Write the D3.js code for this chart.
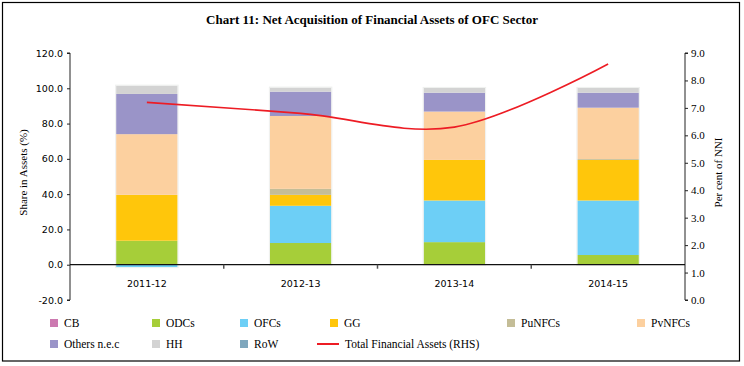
<!DOCTYPE html>
<html><head><meta charset="utf-8">
<script src="https://cdn.jsdelivr.net/npm/d3@7"></script>
<style>body{margin:0;background:#fff}svg{display:block}</style>
</head><body>
<svg id="c" width="744" height="366"></svg>
<script>
const categories = ["2011-12","2012-13","2013-14","2014-15"];
const seriesNames = ["CB","ODCs","OFCs","GG","PuNFCs","PvNFCs","Others n.e.c","HH","RoW"];
const CB = [0,0,0,0];
const ODCs = [13.6,12.3,12.8,5.5];
const OFCs = [-1.4,21.1,23.6,30.9];
const GG = [26.0,6.2,23.0,23.0];
const PuNFCs = [0,3.4,0,0.5];
const PvNFCs = [34.4,41.3,27.4,29.1];
const Others = [22.8,13.8,10.7,8.5];
const HH = [4.7,2.3,2.7,2.7];
const RoW = [0,0,0,0];
const totalFA = [7.2,6.8,6.3,8.6];
const leftTicks = [-20,0,20,40,60,80,100,120];
const rightTicks = [0,1,2,3,4,5,6,7,8,9];
const colors = ["#cc79b0","#a6ce39","#6dcff6","#ffc60b","#c4bd97","#fcd09f","#9a94c8","#d3d3d3","#7fa7bd"];
const seriesVals = [CB,ODCs,OFCs,GG,PuNFCs,PvNFCs,Others,HH,RoW];

const svg = d3.select("#c");
const L = 70, R = 685, T = 53, B = 300;
const fmt = d => d3.format(".1f")(d).replace("\u2212","-");

svg.append("rect").attr("x",2.5).attr("y",2.5).attr("width",737).attr("height",358.5)
  .attr("fill","none").attr("stroke","#000").attr("stroke-width",1.2);

svg.append("text").attr("x",372).attr("y",24).attr("text-anchor","middle")
  .attr("font-family","Liberation Serif").attr("font-weight","bold").attr("font-size",13)
  .text("Chart 11: Net Acquisition of Financial Assets of OFC Sector");

const x = d3.scaleBand().domain(categories).range([L,R]).paddingInner(0.6).paddingOuter(0.3);
const yL = d3.scaleLinear().domain([-20,120]).range([B,T]);
const yR = d3.scaleLinear().domain([0,9]).range([B,T]);

const table = categories.map((c,i)=>{const o={cat:c}; seriesNames.forEach((s,j)=>o[s]=seriesVals[j][i]); return o;});
const stack = d3.stack().keys(seriesNames).offset(d3.stackOffsetDiverging)(table);

const g = svg.append("g");
stack.forEach((layer,j)=>{
  g.selectAll(null).data(layer).enter().append("rect")
    .attr("x",d=>x(d.data.cat))
    .attr("width",x.bandwidth())
    .attr("y",d=>yL(Math.max(d[0],d[1])))
    .attr("height",d=>Math.abs(yL(d[0])-yL(d[1])))
    .attr("fill",colors[j]);
});
g.selectAll(null).data(categories).enter().append("rect")
  .attr("x",d=>x(d)-0.5).attr("width",x.bandwidth()+1)
  .attr("y",(d,i)=>yL(d3.sum(seriesVals,s=>Math.max(0,s[i])))-0.5)
  .attr("height",(d,i)=>yL(d3.sum(seriesVals,s=>Math.min(0,s[i])))-yL(d3.sum(seriesVals,s=>Math.max(0,s[i])))+1)
  .attr("fill","none").attr("stroke","#eef0ee").attr("stroke-width",1);

const axL = svg.append("g").attr("transform",`translate(${L},0)`)
  .call(d3.axisLeft(yL).tickValues(leftTicks).tickSize(3).tickFormat(fmt));
axL.selectAll("text").attr("font-family","DejaVu Sans").attr("font-size",9.5).attr("fill","#000").attr("dx",-1);
axL.selectAll("line,path").attr("stroke","#222");
axL.select("path").attr("d",`M-3,${T}H0V${B}H-3`);

const axR = svg.append("g").attr("transform",`translate(${R},0)`)
  .call(d3.axisRight(yR).tickValues(rightTicks).tickSize(3).tickFormat(fmt));
axR.selectAll("text").attr("font-family","Liberation Serif").attr("font-size",11).attr("fill","#000");
axR.selectAll("line,path").attr("stroke","#222");
axR.select("path").attr("d",`M3,${T}H0V${B}H3`);

svg.append("line").attr("x1",L).attr("x2",R).attr("y1",yL(0)).attr("y2",yL(0)).attr("stroke","#111").attr("stroke-width",1.2);
const bounds = categories.slice(1).map(c=>x(c)-x.step()*x.paddingInner()/2);
svg.selectAll(null).data(bounds).enter().append("line")
  .attr("x1",d=>d).attr("x2",d=>d).attr("y1",yL(0)).attr("y2",yL(0)+4).attr("stroke","#555").attr("stroke-width",1.5);
svg.selectAll(null).data(categories).enter().append("text")
  .attr("x",d=>x(d)+x.bandwidth()/2).attr("y",287).attr("text-anchor","middle")
  .attr("font-family","DejaVu Sans").attr("font-size",9.5).text(d=>d);

svg.append("text").attr("transform",`translate(27,${(T+B)/2-4}) rotate(-90)`).attr("text-anchor","middle")
  .attr("font-family","Liberation Serif").attr("font-size",11).text("Share in Assets (%)");
svg.append("text").attr("transform",`translate(722,${(T+B)/2-4}) rotate(-90)`).attr("text-anchor","middle")
  .attr("font-family","Liberation Serif").attr("font-size",11).text("Per cent of NNI");

const line = d3.line().x((d,i)=>x(categories[i])+x.bandwidth()/2).y(d=>yR(d)).curve(d3.curveCatmullRom.alpha(0));
svg.append("path").datum(totalFA).attr("d",line).attr("fill","none").attr("stroke","#ed1c24").attr("stroke-width",1.6);

const legendItems = [
  {n:"CB",c:0,x:50,y:323},{n:"ODCs",c:1,x:152,y:323},{n:"OFCs",c:2,x:240,y:323},{n:"GG",c:3,x:330,y:323},
  {n:"PuNFCs",c:4,x:507,y:323},{n:"PvNFCs",c:5,x:637,y:323},
  {n:"Others n.e.c",c:6,x:50,y:344},{n:"HH",c:7,x:152,y:344},{n:"RoW",c:8,x:240,y:344}
];
const lg = svg.append("g");
legendItems.forEach(it=>{
  lg.append("rect").attr("x",it.x).attr("y",it.y-4).attr("width",8).attr("height",8).attr("fill",colors[it.c]);
  lg.append("text").attr("x",it.x+14).attr("y",it.y+4).attr("font-family","Liberation Serif").attr("font-size",11.5).text(it.n);
});
lg.append("line").attr("x1",317).attr("x2",339).attr("y1",344).attr("y2",344).attr("stroke","#ed1c24").attr("stroke-width",2);
lg.append("text").attr("x",345).attr("y",348).attr("font-family","Liberation Serif").attr("font-size",11.5).text("Total Financial Assets (RHS)");
</script>
</body></html>
